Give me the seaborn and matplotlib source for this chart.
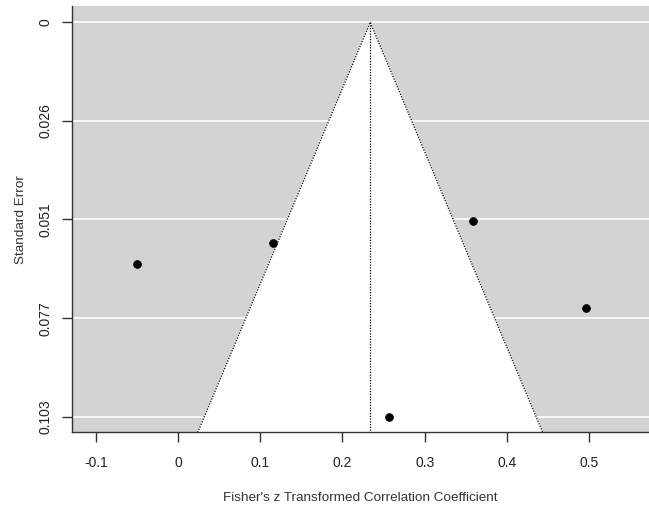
import numpy as np
import pandas as pd
import matplotlib
matplotlib.use("Agg")
import matplotlib.pyplot as plt
import seaborn as sns

# effect sizes (Fisher's z) and their standard errors
zi = [-0.0495, 0.1158, 0.3593, 0.4961, 0.2567]
sei = [0.0632, 0.0577, 0.0519, 0.0747, 0.103]

est = 0.2338          # pooled estimate (dotted centre line)
ytick_vals = [0, 0.02575, 0.0515, 0.07725, 0.103]
ytick_labs = ["0", "0.026", "0.051", "0.077", "0.103"]
xtick_vals = [-0.1, 0, 0.1, 0.2, 0.3, 0.4, 0.5]
xtick_labs = ["-0.1", "0", "0.1", "0.2", "0.3", "0.4", "0.5"]

df = pd.DataFrame({"zi": zi, "sei": sei})

sns.set_style("white")
plt.rcParams["font.family"] = ["Liberation Sans", "DejaVu Sans"]

fig = plt.figure(figsize=(6.49, 5.13), dpi=100)
ax = fig.add_axes([0.111, 0.157, 0.889, 0.831])

ylo, yhi = 0.1071, -0.0042
ax.set_xlim(-0.129, 0.573)
ax.set_ylim(ylo, yhi)

ax.set_facecolor("lightgray")
for v in ytick_vals:
    ax.axhline(v, color="white", lw=1.2, zorder=1)

# funnel region
crit = 1.96
fx = [est - crit * ylo, est, est + crit * ylo]
fy = [ylo, 0, ylo]
ax.fill(fx, fy, color="white", zorder=2)
ax.plot(fx, fy, color="black", lw=0.9, ls=(0, (1, 1.2)), zorder=3)
ax.plot([est, est], [0, ylo], color="black", lw=0.9, ls=(0, (1, 1.2)), zorder=3)

sns.scatterplot(data=df, x="zi", y="sei", ax=ax, color="black", s=32,
                edgecolor="black", linewidth=0.5, zorder=4)

ax.set_xticks(xtick_vals)
ax.set_xticklabels(xtick_labs)
ax.set_yticks(ytick_vals)
ax.set_yticklabels(ytick_labs, rotation=90, va="center")
ax.tick_params(axis="both", direction="out", length=7, width=1, color="#333333",
               labelsize=10, labelcolor="#222222", bottom=True, left=True)
ax.tick_params(axis="x", pad=10)
ax.tick_params(axis="y", pad=7)

for s in ["top", "right"]:
    ax.spines[s].set_visible(False)
for s in ["left", "bottom"]:
    ax.spines[s].set_color("#333333")
    ax.spines[s].set_linewidth(1)

ax.set_xlabel("Fisher's z Transformed Correlation Coefficient", fontsize=9.7,
              color="#333333", labelpad=16)
ax.set_ylabel("Standard Error", fontsize=9.7, color="#333333", labelpad=8)

fig.savefig("out.png", dpi=100)
